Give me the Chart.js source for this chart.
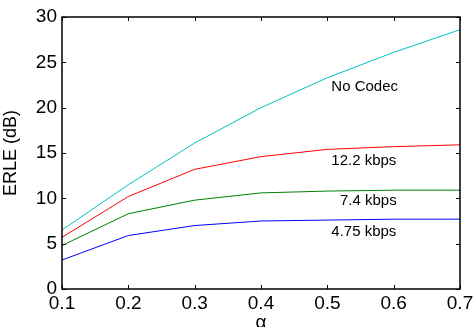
<!DOCTYPE html>
<html>
<head>
<meta charset="utf-8">
<script src="https://cdn.jsdelivr.net/npm/chart.js@4"></script>
<style>
  html, body { margin: 0; padding: 0; background: #fff; }
  #wrap { width: 473px; height: 327px; }
</style>
</head>
<body>
<div id="wrap"><canvas id="c" width="473" height="327"></canvas></div>
<script>
// --- data ---
const alphaValues = [0.1, 0.2, 0.3, 0.4, 0.5, 0.6, 0.7];
const noCodec  = [6.5, 11.5, 16.1, 20.0, 23.3, 26.1, 28.6];
const kbps122  = [5.7, 10.2, 13.2, 14.6, 15.4, 15.7, 15.9];
const kbps74   = [4.8, 8.3, 9.8, 10.6, 10.8, 10.9, 10.9];
const kbps475  = [3.2, 5.9, 7.0, 7.5, 7.6, 7.7, 7.7];

const seriesNames  = ['No Codec', '12.2 kbps', '7.4 kbps', '4.75 kbps'];
const seriesColors = ['#00bfbf', '#ff0000', '#008000', '#0000ff'];
// where each curve label sits (data units, left edge / baseline)
const labelX = [0.506, 0.506, 0.519, 0.506];
const labelY = [21.8, 13.7, 9.3, 5.9];

const xTicks = [0.1, 0.2, 0.3, 0.4, 0.5, 0.6, 0.7];
const yTicks = [0, 5, 10, 15, 20, 25, 30];

const FONT = '"Liberation Sans", Arial, Helvetica, sans-serif';

const toPoints = vals => alphaValues.map((a, i) => ({ x: a, y: vals[i] }));
const allSeries = [noCodec, kbps122, kbps74, kbps475];

// inward ticks on all four sides, curve labels and the alpha title
const decorPlugin = {
    id: 'decor',
    afterDraw(chart) {
        const { ctx, chartArea: ca, scales: { x, y } } = chart;
        ctx.save();
        ctx.strokeStyle = '#000';
        ctx.lineWidth = 1;
        const len = 4;
        xTicks.forEach(v => {
            const px = Math.round(x.getPixelForValue(v)) + 0.5;
            ctx.beginPath();
            ctx.moveTo(px, ca.bottom); ctx.lineTo(px, ca.bottom - len);
            ctx.moveTo(px, ca.top); ctx.lineTo(px, ca.top + len);
            ctx.stroke();
        });
        yTicks.forEach(v => {
            const py = Math.round(y.getPixelForValue(v)) + 0.5;
            ctx.beginPath();
            ctx.moveTo(ca.left, py); ctx.lineTo(ca.left + len, py);
            ctx.moveTo(ca.right, py); ctx.lineTo(ca.right - len, py);
            ctx.stroke();
        });
        // box
        ctx.lineWidth = 1.5;
        ctx.strokeRect(ca.left, ca.top, ca.right - ca.left, ca.bottom - ca.top);

        // curve labels
        ctx.fillStyle = '#000';
        ctx.font = '15px ' + FONT;
        ctx.textAlign = 'left';
        ctx.textBaseline = 'alphabetic';
        seriesNames.forEach((name, i) => {
            ctx.fillText(name, x.getPixelForValue(labelX[i]), y.getPixelForValue(labelY[i]));
        });

        // x axis title
        ctx.font = '19px ' + FONT;
        ctx.textAlign = 'center';
        ctx.fillText('α', (ca.left + ca.right) / 2, 328);
        ctx.restore();
    }
};

new Chart(document.getElementById('c'), {
    type: 'line',
    data: {
        datasets: allSeries.map((vals, i) => ({
            label: seriesNames[i],
            data: toPoints(vals),
            borderColor: seriesColors[i],
            borderWidth: 1,
            pointRadius: 0,
            tension: 0,
            fill: false
        }))
    },
    options: {
        responsive: false,
        animation: false,
        layout: { padding: { top: 17, right: 13, left: 0, bottom: 0 } },
        plugins: { legend: { display: false }, tooltip: { enabled: false } },
        scales: {
            x: {
                type: 'linear',
                min: 0.1, max: 0.7,
                afterBuildTicks: s => { s.ticks = xTicks.map(v => ({ value: v })); },
                afterFit: s => { s.height = 38; s.paddingLeft = 0; s.paddingRight = 0; },
                grid: { display: false, drawTicks: false },
                border: { display: false },
                ticks: {
                    color: '#000',
                    font: { family: FONT, size: 19 },
                    padding: 3,
                    maxRotation: 0,
                    callback: v => v.toFixed(1)
                }
            },
            y: {
                min: 0, max: 30,
                afterBuildTicks: s => { s.ticks = yTicks.map(v => ({ value: v })); },
                afterFit: s => { s.width = 62; s.paddingTop = 0; s.paddingBottom = 0; },
                grid: { display: false, drawTicks: false },
                border: { display: false },
                title: {
                    display: true,
                    text: 'ERLE (dB)',
                    color: '#000',
                    font: { family: FONT, size: 18 },
                    padding: { top: 0, bottom: 2 }
                },
                ticks: {
                    color: '#000',
                    font: { family: FONT, size: 19 },
                    padding: 5
                }
            }
        }
    },
    plugins: [decorPlugin]
});
</script>
</body>
</html>
